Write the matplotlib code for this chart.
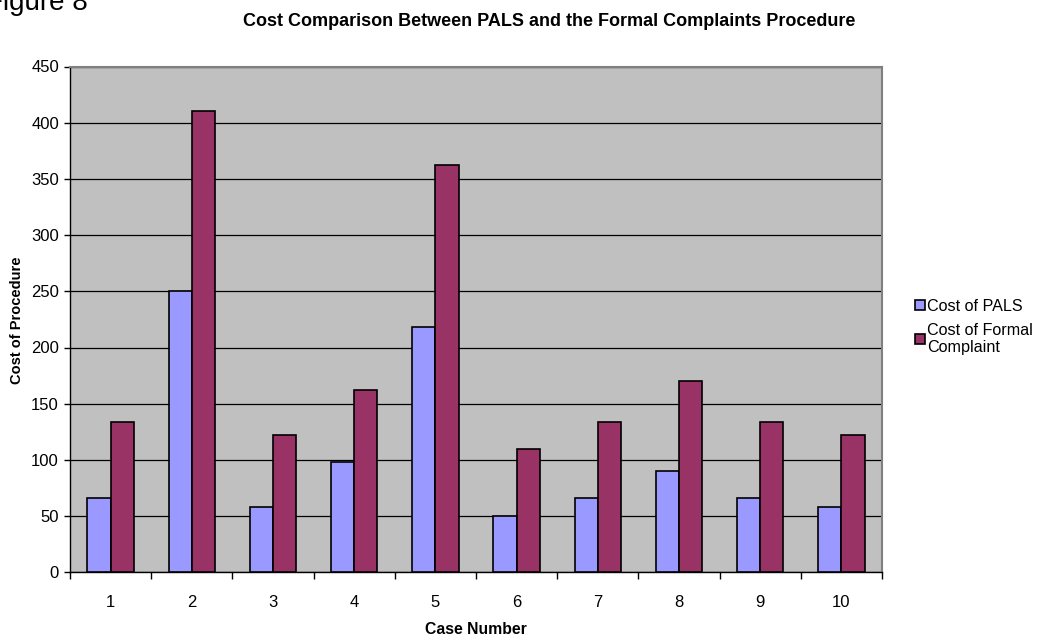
import matplotlib
matplotlib.use("Agg")
import matplotlib.pyplot as plt
import numpy as np
from matplotlib.ticker import FixedLocator, NullFormatter

plt.rcParams['font.family'] = ['Liberation Sans', 'DejaVu Sans']

cases = ['1', '2', '3', '4', '5', '6', '7', '8', '9', '10']
pals_cost = [66, 250, 58, 98, 218, 50, 66, 90, 66, 58]
formal_cost = [134, 410, 122, 162, 362, 110, 134, 170, 134, 122]
y_ticks = [0, 50, 100, 150, 200, 250, 300, 350, 400, 450]

W, H = 1037, 639
fig = plt.figure(figsize=(W / 100, H / 100), dpi=100)
ax = fig.add_axes([70 / W, 1 - 572.3 / H, 812 / W, (572.3 - 66.5) / H])
ax.set_facecolor('#C0C0C0')

x = np.arange(len(cases))
w = 1 / 3.5
ax.bar(x - w / 2, pals_cost, w, color='#9999FF', edgecolor='black',
       linewidth=1.2, zorder=3, label='Cost of PALS')
ax.bar(x + w / 2, formal_cost, w, color='#993366', edgecolor='black',
       linewidth=1.2, zorder=3, label='Cost of Formal\nComplaint')

ax.set_xlim(-0.5, len(cases) - 0.5)
ax.set_ylim(0, 450)
ax.set_yticks(y_ticks)
ax.yaxis.grid(True, color='black', linewidth=0.9, zorder=1)
ax.set_axisbelow(True)

ax.set_xticks(x)
ax.set_xticklabels(cases)
ax.xaxis.set_minor_locator(FixedLocator(np.arange(-0.5, len(cases), 1.0)))
ax.xaxis.set_minor_formatter(NullFormatter())
ax.tick_params(axis='x', which='major', length=0, pad=16, labelsize=12)
ax.tick_params(axis='x', which='minor', length=5, width=1, direction='out')
ax.tick_params(axis='y', length=4, width=1, direction='out', labelsize=12, pad=4)

for side in ('top', 'right'):
    ax.spines[side].set_color('#808080')
    ax.spines[side].set_linewidth(1.5)
for side in ('left', 'bottom'):
    ax.spines[side].set_color('black')
    ax.spines[side].set_linewidth(1.0)

# Axis titles placed in figure pixels
fig.text(476 / W, 1 - 629 / H, 'Case Number', ha='center', va='center',
         fontsize=11.3, fontweight='bold')
fig.text(17 / W, 1 - 320 / H, 'Cost of Procedure', ha='center', va='center',
         rotation=90, fontsize=10.5, fontweight='bold')

fig.text(549 / W, 1 - 22 / H, 'Cost Comparison Between PALS and the Formal Complaints Procedure',
         ha='center', va='center', fontsize=13, fontweight='bold')
fig.text(-14 / W, 1 - 10 / H, 'Figure 8', ha='left', va='baseline', fontsize=20)

fig.legend(loc='upper left', bbox_to_anchor=(910 / W, 1 - 294 / H), frameon=False,
           fontsize=11.6, handlelength=0.6, handleheight=0.6, handletextpad=0.15,
           labelspacing=0.55, borderaxespad=0, borderpad=0.3)

fig.savefig('out.png', dpi=100)
